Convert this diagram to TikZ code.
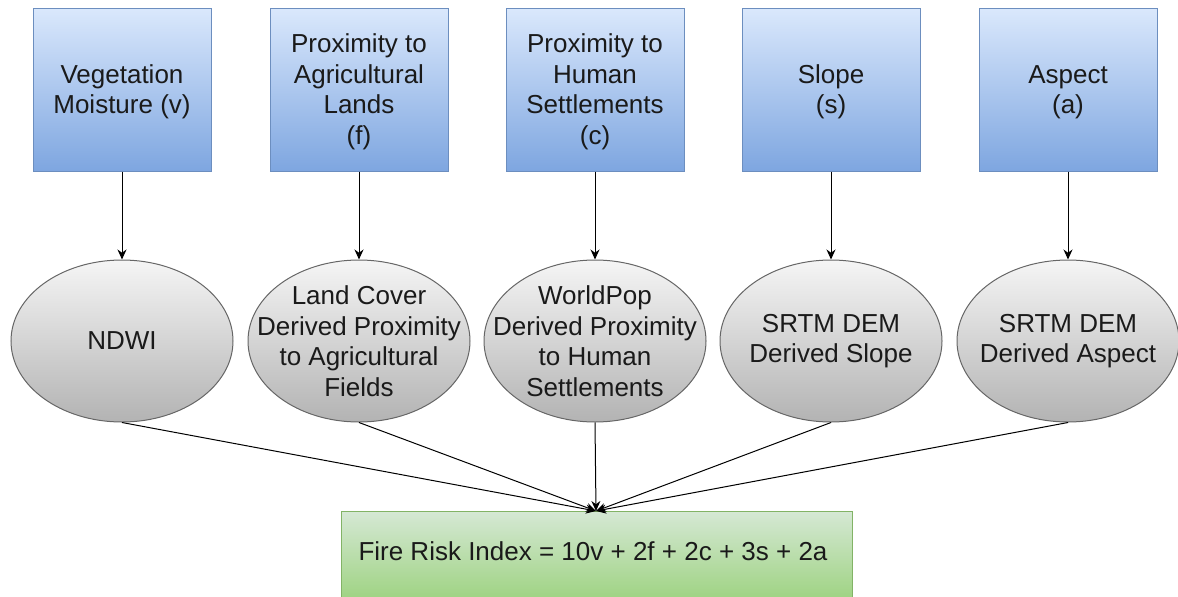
\documentclass[tikz,border=0pt]{standalone}
\usepackage{fontspec}
\setmainfont{Liberation Sans}
\usetikzlibrary{shapes.geometric,arrows.meta}
\definecolor{bluetop}{HTML}{DAE8FC}
\definecolor{bluebot}{HTML}{7EA6E0}
\definecolor{blueline}{HTML}{6C8EBF}
\definecolor{graytop}{HTML}{F5F5F5}
\definecolor{graybot}{HTML}{B3B3B3}
\definecolor{grayline}{HTML}{666666}
\definecolor{greentop}{HTML}{D5E8D4}
\definecolor{greenbot}{HTML}{97D077}
\definecolor{greenline}{HTML}{82B366}
\definecolor{txt}{HTML}{1A1A1A}
\tikzset{
  factor/.style={rectangle, draw=blueline, line width=1pt, top color=bluetop, bottom color=bluebot,
    minimum width=178pt, minimum height=163pt, inner sep=0pt},
  source/.style={ellipse, draw=grayline, line width=1pt, top color=graytop, bottom color=graybot,
    minimum width=222pt, minimum height=162pt, inner sep=0pt},
  result/.style={rectangle, draw=greenline, line width=1pt, top color=greentop, bottom color=greenbot,
    minimum width=511pt, minimum height=100pt, inner sep=0pt},
  label text/.style={align=center, text=txt, inner sep=0pt,
    font=\fontsize{26}{30.5}\selectfont},
  arr/.style={draw=black, line width=1pt, -{Stealth[length=10pt,width=9pt]}}
}
\begin{document}
\begin{tikzpicture}[x=1pt,y=-1pt]
  \useasboundingbox (0,0) rectangle (1178,597);
  % input factors
  \node[factor] (f1) at (122,89.5) {};
  \node[factor] (f2) at (359,89.5) {};
  \node[factor] (f3) at (595,89.5) {};
  \node[factor] (f4) at (831,89.5) {};
  \node[factor] (f5) at (1068,89.5) {};
  \node[label text, yshift=-2.5pt] (f1t) at (f1) {Vegetation\\Moisture (v)};
  \node[label text, yshift=-2.5pt] (f2t) at (f2) {Proximity to\\Agricultural\\Lands\\(f)};
  \node[label text, yshift=-2.5pt] (f3t) at (f3) {Proximity to\\Human\\Settlements\\(c)};
  \node[label text, yshift=-2.5pt] (f4t) at (f4) {Slope\\(s)};
  \node[label text, yshift=-2.5pt] (f5t) at (f5) {Aspect\\(a)};
  % data sources
  \node[source] (s1) at (122,341) {};
  \node[source] (s2) at (359,341) {};
  \node[source] (s3) at (595,341) {};
  \node[source] (s4) at (831,341) {};
  \node[source] (s5) at (1068,341) {};
  \node[label text] (s1t) at (s1) {NDWI};
  \node[label text] (s2t) at (s2) {Land Cover\\Derived Proximity\\to Agricultural\\Fields};
  \node[label text] (s3t) at (s3) {WorldPop\\Derived Proximity\\to Human\\Settlements};
  \node[label text] (s4t) at (s4) {SRTM DEM\\Derived Slope};
  \node[label text] (s5t) at (s5) {SRTM DEM\\Derived Aspect};
  % combined index (runs past the lower edge)
  \node[result, anchor=north] (r) at (596.5,511) {};
  \node[label text] (rt) at (593,551) {Fire Risk Index = 10v + 2f + 2c + 3s + 2a};
  \coordinate (t) at (596,511);
  % connectors
  \foreach \i in {1,...,5} {
    \draw[arr] (f\i.south) -- (s\i.north);
    \draw[arr] (s\i.south) -- (t);
  }
\end{tikzpicture}
\end{document}
